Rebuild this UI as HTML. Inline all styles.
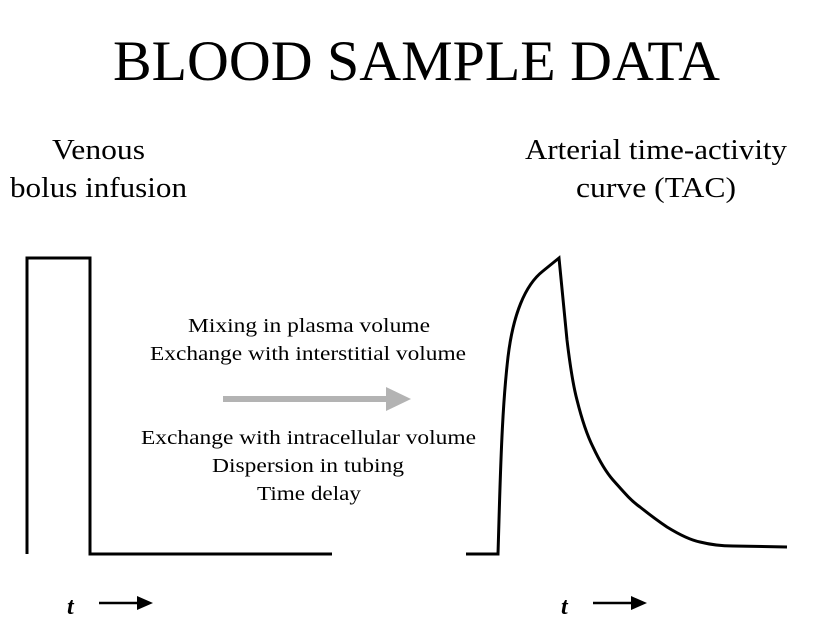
<!DOCTYPE html>
<html><head><meta charset="utf-8"><style>
html,body{margin:0;padding:0;background:#fff;}
svg{display:block;font-family:"Liberation Serif",serif;}
</style></head><body>
<svg width="819" height="627" viewBox="0 0 819 627" xmlns="http://www.w3.org/2000/svg">
<text x="113" y="80" font-size="57" textLength="607" lengthAdjust="spacingAndGlyphs">BLOOD SAMPLE DATA</text>
<g font-size="28">
<text x="52" y="159" textLength="93" lengthAdjust="spacingAndGlyphs">Venous</text>
<text x="10" y="197" textLength="177" lengthAdjust="spacingAndGlyphs">bolus infusion</text>
<text x="525" y="159" textLength="262" lengthAdjust="spacingAndGlyphs">Arterial time-activity</text>
<text x="576" y="197" textLength="160" lengthAdjust="spacingAndGlyphs">curve (TAC)</text>
</g>
<g font-size="20">
<text x="188" y="332" textLength="242" lengthAdjust="spacingAndGlyphs">Mixing in plasma volume</text>
<text x="150" y="360" textLength="316" lengthAdjust="spacingAndGlyphs">Exchange with interstitial volume</text>
<text x="141" y="444" textLength="335" lengthAdjust="spacingAndGlyphs">Exchange with intracellular volume</text>
<text x="212" y="472" textLength="192" lengthAdjust="spacingAndGlyphs">Dispersion in tubing</text>
<text x="257" y="500" textLength="104" lengthAdjust="spacingAndGlyphs">Time delay</text>
</g>
<path d="M27,554 V258 H90 V554 H332" fill="none" stroke="#000" stroke-width="3"/>
<line x1="223" y1="399" x2="390" y2="399" stroke="#b3b3b3" stroke-width="6"/>
<polygon points="386,387 411,399 386,411" fill="#b3b3b3"/>
<path d="M466,554 H498 L499,520 C501,450 503,400 508,357 C513,315 525,285 543,271 L559,258 L567,340 C570,365 573,385 577,400 C582,420 587,435 593,447 C600,462 606,472 613,480 C622,490 630,500 640,507 C650,515 658,521 667,527 C680,535 690,540 700,542 C712,545 722,546 733,546 L787,547" fill="none" stroke="#000" stroke-width="3"/>
<g font-size="24" font-weight="bold" font-style="italic">
<text x="67" y="614">t</text>
<text x="561" y="614">t</text>
</g>
<line x1="99" y1="603" x2="140" y2="603" stroke="#000" stroke-width="2.5"/>
<polygon points="137,596 153,603 137,610"/>
<line x1="593" y1="603" x2="634" y2="603" stroke="#000" stroke-width="2.5"/>
<polygon points="631,596 647,603 631,610"/>
</svg>
</body></html>
